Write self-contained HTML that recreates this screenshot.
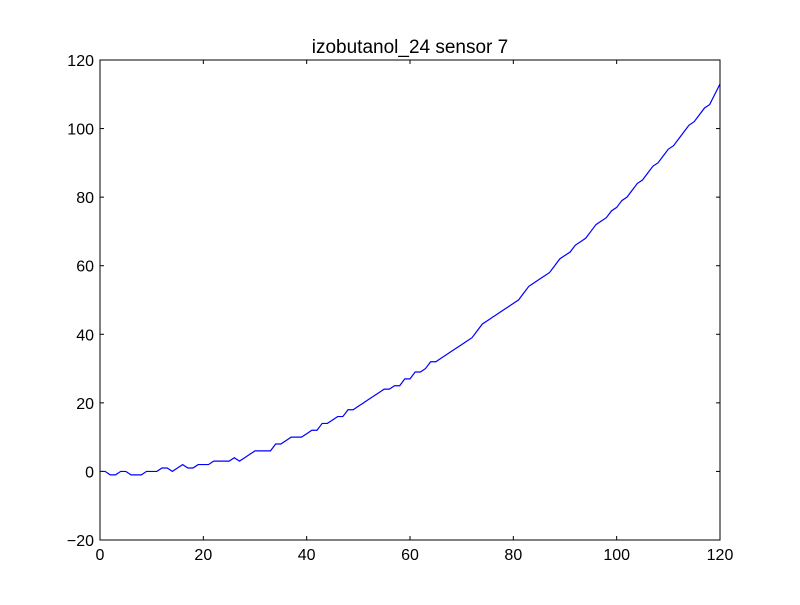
<!DOCTYPE html>
<html><head><meta charset="utf-8"><style>
body{margin:0;background:#fff;}
svg text{font-family:"Liberation Sans","DejaVu Sans",sans-serif;}
</style></head><body>
<svg id="chart" width="800" height="600" xmlns="http://www.w3.org/2000/svg">
<rect width="800" height="600" fill="#fff"/>
<text x="410" y="53" font-size="19" text-anchor="middle">izobutanol_24 sensor 7</text>
<g id="axes"></g>
<polyline id="series" fill="none" stroke="#0000ff" stroke-width="1.2"/>
<rect x="100" y="60" width="620" height="480" fill="none" stroke="#000" stroke-width="1"/>
</svg>
<script>
const xTicks=[0,20,40,60,80,100,120];
const yTicks=[-20,0,20,40,60,80,100,120];
const yValues=[0,0,-1,-1,0,0,-1,-1,-1,0,0,0,1,1,0,1,2,1,1,2,2,2,3,3,3,3,4,3,4,5,6,6,6,6,8,8,9,10,10,10,11,12,12,14,14,15,16,16,18,18,19,20,21,22,23,24,24,25,25,27,27,29,29,30,32,32,33,34,35,36,37,38,39,41,43,44,45,46,47,48,49,50,52,54,55,56,57,58,60,62,63,64,66,67,68,70,72,73,74,76,77,79,80,82,84,85,87,89,90,92,94,95,97,99,101,102,104,106,107,110,113];
const X=v=>100+(v-0)/120*620;
const Y=v=>540-(v+20)/140*480;
const ns="http://www.w3.org/2000/svg";
const ax=document.getElementById('axes');
function mk(t,a){const e=document.createElementNS(ns,t);for(const k in a)e.setAttribute(k,a[k]);ax.appendChild(e);return e;}
xTicks.forEach(v=>{
 const l1=mk('line',{x1:X(v),x2:X(v),y1:540,y2:536,stroke:'#000'});
 
 
 const l2=mk('line',{x1:X(v),x2:X(v),y1:60,y2:64,stroke:'#000'});
 
 
 const t=mk('text',{x:X(v),y:560,'font-size':16,'text-anchor':'middle'});
 t.textContent=v;
 
 
});
yTicks.forEach(v=>{
 const l1=mk('line',{x1:100,x2:104,y1:Y(v),y2:Y(v),stroke:'#000'});
 
 
 const l2=mk('line',{x1:716,x2:720,y1:Y(v),y2:Y(v),stroke:'#000'});
 
 
 const t=mk('text',{x:94,y:Y(v)+6,'font-size':16,'text-anchor':'end'});
 t.textContent=v<0?'\u2212'+(-v):v;
 
 
});
document.getElementById('series').setAttribute('points',yValues.map((v,i)=>X(i)+','+Y(v)).join(' '));
</script>
</body></html>
